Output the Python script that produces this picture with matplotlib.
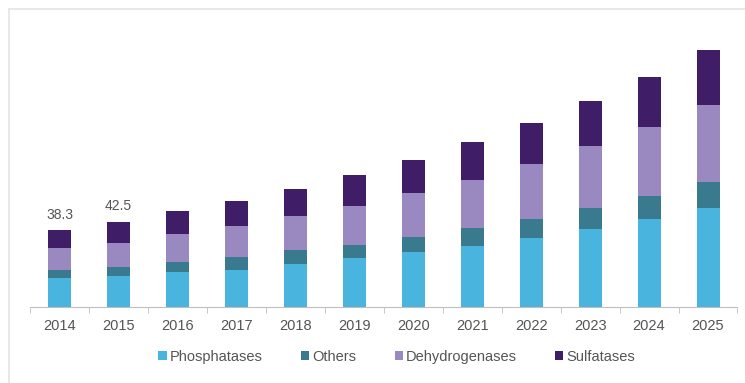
import matplotlib.pyplot as plt
import numpy as np

plt.rcParams['font.family'] = ['Liberation Sans', 'DejaVu Sans']

years = ['2014', '2015', '2016', '2017', '2018', '2019', '2020',
         '2021', '2022', '2023', '2024', '2025']
phosphatases = [14.1, 15.4, 17.3, 18.5, 21.2, 24.2, 27.2, 30.5, 34.1, 38.8, 43.8, 49.1]
others = [4.2, 4.5, 5.0, 6.2, 7.2, 6.7, 7.8, 8.7, 9.7, 10.3, 11.5, 13.0]
dehydrogenases = [11.2, 12.1, 14.2, 15.8, 17.0, 19.5, 21.7, 24.2, 27.5, 31.2, 34.3, 38.7]
sulfatases = [8.8, 10.5, 11.2, 12.5, 13.3, 15.5, 16.7, 18.8, 20.3, 22.7, 25.0, 27.5]
labelled = {0: '38.3', 1: '42.5'}

series = [('Phosphatases', phosphatases, '#49b4de'),
          ('Others', others, '#3a7a8e'),
          ('Dehydrogenases', dehydrogenases, '#9a89c1'),
          ('Sulfatases', sulfatases, '#3f1d67')]

fig = plt.figure(figsize=(7.45, 3.83), dpi=100)
# faint frame around the panel
fig.add_artist(plt.Line2D([9/745, 9/745], [0, 1 - 9/383], color='#e4e4e4', lw=1.2))
fig.add_artist(plt.Line2D([9/745, 1], [1 - 9/383, 1 - 9/383], color='#e4e4e4', lw=1.2))

ax = fig.add_axes([30/745, (383 - 306.5)/383, 707.5/745, 286.5/383])
x = np.arange(len(years))
bottom = np.zeros(len(years))
for name, vals, col in series:
    ax.bar(x, vals, 0.39, bottom=bottom, color=col, label=name)
    bottom += np.array(vals)

totals = bottom
for i, txt in labelled.items():
    ax.text(x[i], totals[i] + 4, txt, ha='center', va='bottom',
            fontsize=10, color='#555555')

ax.set_xlim(-0.5, len(years) - 0.5)
ax.set_ylim(0, 143.25)
ax.set_xticks(x)
ax.set_xticklabels(years, fontsize=10.5, color='#555555')
ax.set_xticks(np.arange(len(years) + 1) - 0.5, minor=True)
ax.tick_params(axis='x', which='major', length=0, pad=9)
ax.tick_params(axis='x', which='minor', length=4, color='#bfbfbf')
ax.set_yticks([])
for s in ['top', 'right', 'left']:
    ax.spines[s].set_visible(False)
ax.spines['bottom'].set_color('#bfbfbf')

fig.legend(loc='center', bbox_to_anchor=(397/745, 1 - 357/383), ncol=4,
           frameon=False, fontsize=10.5, handlelength=0.55, handleheight=0.55,
           handletextpad=0.25, columnspacing=2.6, labelcolor='#555555')

fig.savefig('out.png', dpi=100)
